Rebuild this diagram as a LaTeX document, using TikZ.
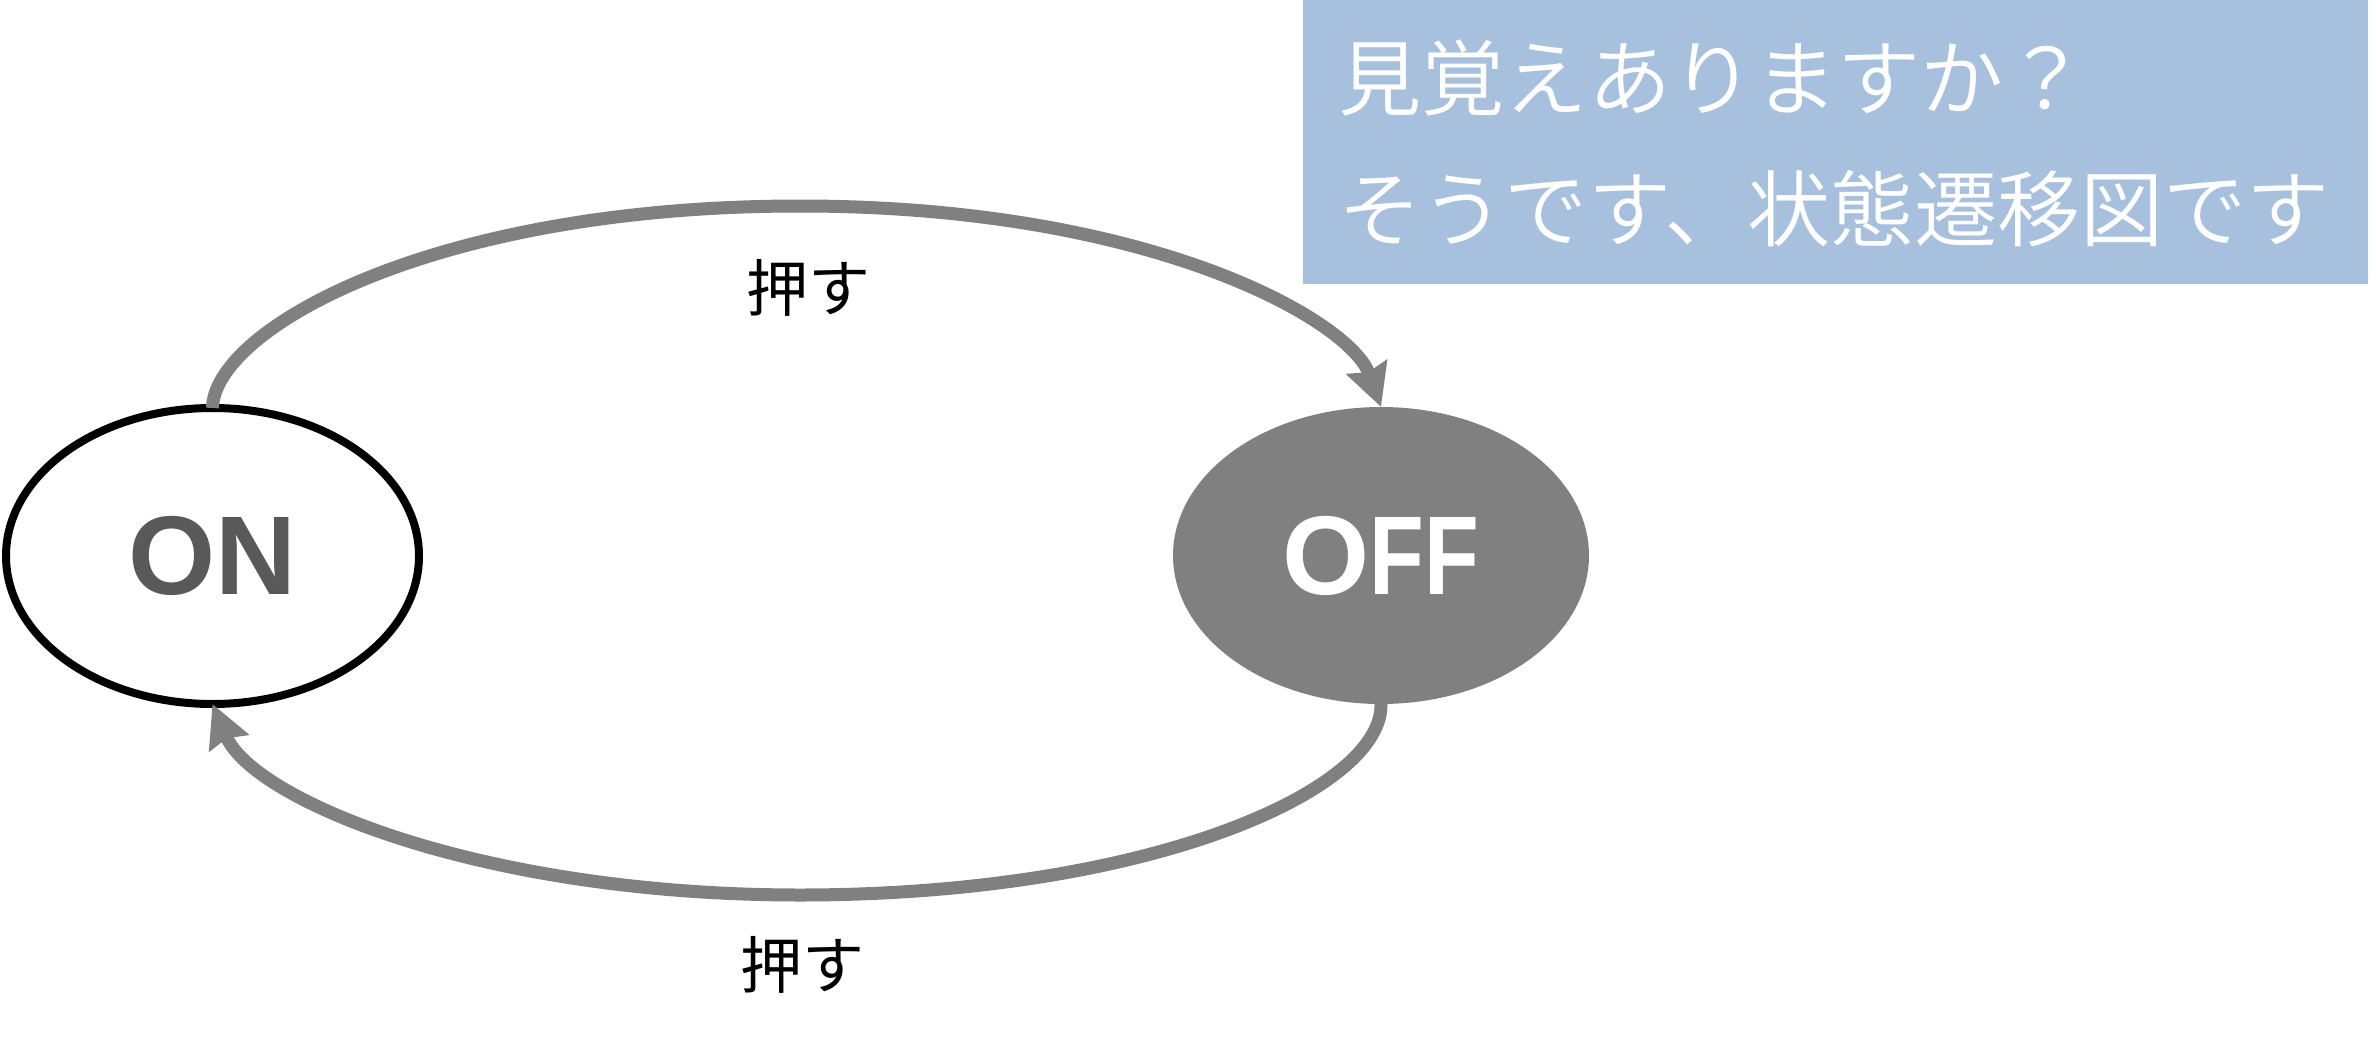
\documentclass[tikz,border=0pt]{standalone}
\usepackage{fontspec}
\setmainfont{Liberation Sans}
\newfontfamily\narrowsans[FakeStretch=0.8]{Liberation Sans}
\newfontfamily\jp{Noto Sans CJK JP}
\newfontfamily\jplight{Noto Sans CJK JP DemiLight}
\usetikzlibrary{arrows.meta,shapes.geometric}
\definecolor{boxblue}{RGB}{167,192,222}
\definecolor{arrowgray}{RGB}{128,128,128}
\definecolor{ongray}{RGB}{89,89,89}
\begin{document}
\begin{tikzpicture}[x=0.5pt,y=-0.5pt,
  state/.style={ellipse, inner sep=0pt, outer sep=0pt, font=\fontsize{56}{60}\selectfont\bfseries},
  trans/.style={draw=arrowgray, line width=6.5pt, -{Stealth[length=21pt,width=21pt,inset=2.5pt]}},
  lbl/.style={font=\jp\fontsize{31}{34}\selectfont, inner sep=0pt},
  banner/.style={font=\jplight\fontsize{41.6}{44}\selectfont, text=white, inner sep=0pt, anchor=west},
  bannerbox/.style={fill=boxblue, inner sep=0pt, outer sep=0pt, anchor=north west}]
\useasboundingbox (0,0) rectangle (2376,1038);
\node[bannerbox, minimum width=532.5pt, minimum height=142pt] (box) at (1303,0) {};
\node[banner] (q) at (1338,78) {見覚えありますか？};
\node[banner] (a) at (1338,209) {そうです、状態遷移図です};
\node[state, draw=black, line width=4pt, minimum width=206.5pt, minimum height=148pt, text=ongray] (on) at (212.5,556) {ON};
\node[state, fill=arrowgray, minimum width=208pt, minimum height=148.5pt, text=white] (off) at (1381,555.5) {O{\narrowsans\bfseries FF}};
\coordinate (toppeak) at (800,206);
\coordinate (botpeak) at (800,895);
\draw[trans] (on.north) .. controls (214,330) and (430,206) .. (toppeak) .. controls (1150,206) and (1350,320) .. (off.north);
\draw[trans] (off.south) .. controls (1383,790) and (1150,895) .. (botpeak) .. controls (480,895) and (253,800) .. (on.south);
\node[lbl] (l1) at (808,288) {押す};
\node[lbl] (l2) at (802,965) {押す};
\end{tikzpicture}
\end{document}
